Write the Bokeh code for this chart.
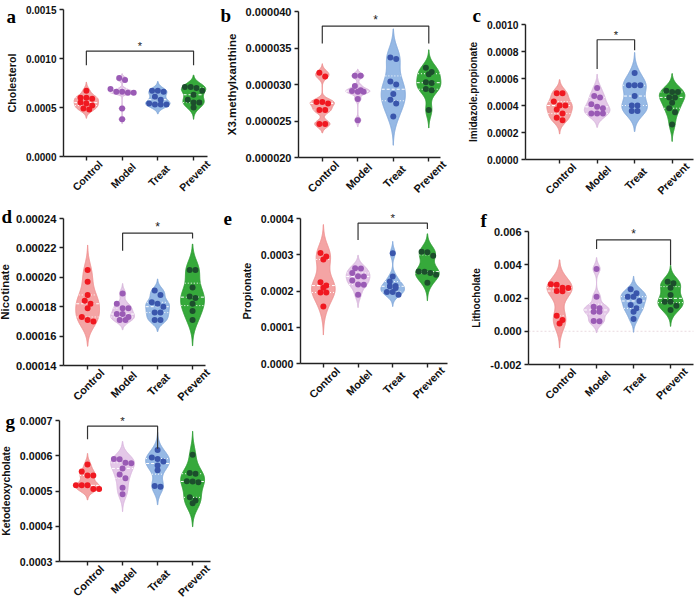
import numpy as np
from bokeh.plotting import figure
from bokeh.layouts import column, row
from bokeh.models import Range1d, FixedTicker, PrintfTickFormatter, Label
from bokeh.embed import file_html
from bokeh.resources import INLINE

groups = ["Control", "Model", "Treat", "Prevent"]

# ---- data ----
chol_control = [0.00067, 0.00060, 0.00060, 0.00059, 0.00055, 0.00054, 0.00052, 0.00049, 0.00048]
chol_model = [0.00080, 0.00078, 0.00069, 0.00066, 0.00066, 0.00065, 0.00065, 0.00049, 0.00038]
chol_treat = [0.00067, 0.00067, 0.00066, 0.00061, 0.00058, 0.00054, 0.00053, 0.00053, 0.00053]
chol_prevent = [0.00071, 0.00071, 0.00070, 0.00067, 0.00063, 0.00058, 0.00055, 0.00055, 0.00050]

x3m_control = [0.0000316, 0.0000311, 0.0000276, 0.0000276, 0.0000274, 0.0000265, 0.0000265, 0.0000246, 0.0000246]
x3m_model = [0.0000312, 0.0000312, 0.0000298, 0.0000292, 0.0000291, 0.0000290, 0.0000290, 0.0000280, 0.0000251]
x3m_treat = [0.0000337, 0.0000335, 0.0000304, 0.0000300, 0.0000287, 0.0000279, 0.0000274, 0.0000256]
x3m_prevent = [0.0000323, 0.0000317, 0.0000314, 0.0000303, 0.0000302, 0.0000294, 0.0000292, 0.0000265]

imid_control = [0.00049, 0.00049, 0.00043, 0.00040, 0.00040, 0.00037, 0.00034, 0.00031, 0.00029]
imid_model = [0.00053, 0.00047, 0.00046, 0.00041, 0.00039, 0.00038, 0.00034, 0.00034, 0.00034]
imid_treat = [0.00064, 0.00055, 0.00055, 0.00055, 0.00047, 0.00040, 0.00040, 0.00036, 0.00036]
imid_prevent = [0.00051, 0.00050, 0.00050, 0.00046, 0.00046, 0.00042, 0.00038, 0.00035, 0.00026]

nico_control = [0.000205, 0.000197, 0.000188, 0.000184, 0.000182, 0.000179, 0.000173, 0.000171, 0.000170]
nico_model = [0.000189, 0.000182, 0.000179, 0.000179, 0.000175, 0.000175, 0.000173, 0.000171, 0.000171]
nico_treat = [0.000191, 0.000188, 0.000183, 0.000182, 0.000180, 0.000176, 0.000176, 0.000171, 0.000171]
nico_prevent = [0.000205, 0.000205, 0.000193, 0.000187, 0.000186, 0.000182, 0.000177, 0.000171]

prop_control = [0.000305, 0.000295, 0.000287, 0.000224, 0.000215, 0.000209, 0.000196, 0.000196, 0.000157]
prop_model = [0.000263, 0.000262, 0.000250, 0.000241, 0.000240, 0.000229, 0.000218, 0.000217, 0.000190]
prop_treat = [0.000304, 0.000240, 0.000226, 0.000214, 0.000213, 0.000208, 0.000197, 0.000197, 0.000190]
prop_prevent = [0.000308, 0.000307, 0.000297, 0.000254, 0.000253, 0.000250, 0.000245, 0.000223]

litho_control = [0.00282, 0.00280, 0.00262, 0.00260, 0.00242, 0.00240, 0.00093, 0.00067, 0.00047]
litho_model = [0.00375, 0.00208, 0.00148, 0.00138, 0.00118, 0.00118, 0.00062, 0.00060]
litho_treat = [0.00252, 0.00228, 0.00208, 0.00208, 0.00182, 0.00158, 0.00138, 0.00118, 0.00073]
litho_prevent = [0.00298, 0.00288, 0.00262, 0.00218, 0.00178, 0.00178, 0.00154, 0.00128]

keto_control = [0.000575, 0.000555, 0.000544, 0.000544, 0.000516, 0.000516, 0.000516, 0.000506, 0.000506]
keto_model = [0.000591, 0.000590, 0.000580, 0.000579, 0.000564, 0.000547, 0.000536, 0.000509, 0.000491]
keto_treat = [0.000616, 0.000595, 0.000591, 0.000584, 0.000572, 0.000559, 0.000514, 0.000512]
keto_prevent = [0.000603, 0.000551, 0.000549, 0.000528, 0.000527, 0.000525, 0.000482, 0.000473, 0.000465]

# y ticks
chol_ticks = [0.0, 0.0005, 0.0010, 0.0015]
x3m_ticks = [0.000020, 0.000025, 0.000030, 0.000035, 0.000040]
imid_ticks = [0.0, 0.0002, 0.0004, 0.0006, 0.0008, 0.0010]
nico_ticks = [0.00014, 0.00016, 0.00018, 0.00020, 0.00022, 0.00024]
prop_ticks = [0.0, 0.0001, 0.0002, 0.0003, 0.0004]
litho_ticks = [-0.002, 0.0, 0.002, 0.004, 0.006]
keto_ticks = [0.0003, 0.0004, 0.0005, 0.0006, 0.0007]

# significance brackets: (left group, right group, top, left foot, right foot)
chol_sig = (0, 3, 0.001076, 0.00093, 0.00093)
x3m_sig = (0, 3, 0.0000380, 0.0000356, 0.0000356)
imid_sig = (1, 2, 0.000887, 0.00067, 0.00081)
nico_sig = (1, 3, 0.000230, 0.000218, 0.0002264)
prop_sig = (1, 3, 0.000387, 0.000341, 0.000371)
litho_sig = (1, 3, 0.0055, 0.00494, 0.00399)
keto_sig = (0, 2, 0.000684, 0.000647, 0.00062)

FILL = ["#F4A4A4", "#E4C8E8", "#96B9E5", "#36A93B"]
EDGE = ["#EF9090", "#D9B6DD", "#82A9DC", "#2C9C32"]
DOT = ["#F01820", "#9A5BB5", "#3A56AC", "#1C4E2C"]
FONT = "Liberation Sans"


def kde(vals, grid, bw):
    v = np.asarray(vals)[:, None]
    return np.exp(-0.5 * ((grid[None, :] - v) / bw) ** 2).sum(axis=0)


def panel(letter, ylabel, data, ticks, fmt, xr, fs, fs_t, fs_x, title_gap, fig, box, letter_pos, sig,
          zero=False):
    fx, fy, W, H = fig
    L, R, T, B = box
    l, r, t, b = L - fx, R - fx, T - fy, B - fy
    xs, xe = xr
    y0, y1 = ticks[0], ticks[-1]
    ppx = (r - l) / (xe - xs)
    ppy = (b - t) / (y1 - y0)
    x_start, x_end = xs - l / ppx, xe + (W - r) / ppx
    y_bot, y_top = y0 - (H - b) / ppy, y1 + t / ppy

    p = figure(width=W, height=H, x_range=Range1d(x_start, x_end), y_range=Range1d(y_bot, y_top),
               output_backend="svg", toolbar_location=None, min_border=0)
    p.outline_line_color = None
    p.grid.visible = False

    if zero:
        p.line([xs, xe], [0, 0], line_color="#E9D9DF", line_dash="2 2", line_width=1)

    for i, vals in enumerate(data):
        vals = np.asarray(vals, dtype=float)
        cx = i + 0.5
        q1, med, q3 = np.percentile(vals, [25, 50, 75])
        sd = vals.std(ddof=1)
        iqr = q3 - q1
        s = min(sd, iqr / 1.34) if iqr > 0 else sd
        bw = 0.9 * s * len(vals) ** -0.2
        grid = np.linspace(vals.min() - 2.6 * bw, vals.max() + 2.6 * bw, 240)
        dens = kde(vals, grid, bw)
        half = dens / dens.max() * 0.34
        xsv = np.concatenate([cx - half, (cx + half)[::-1]])
        ysv = np.concatenate([grid, grid[::-1]])
        p.patch(xsv, ysv, fill_color=FILL[i], line_color=EDGE[i], line_width=1)
        for q, dash in ((q1, "1 2"), (med, "3 2"), (q3, "1 2")):
            hw = float(np.interp(q, grid, half))
            p.segment(x0=[cx - hw], y0=[q], x1=[cx + hw], y1=[q],
                      line_color="white", line_dash=dash, line_width=1)
        # beeswarm rows
        d_px = 5.8
        order = np.argsort(-vals)
        offs = np.zeros(len(vals))
        rows_ = []
        for k in order:
            if rows_ and abs(vals[rows_[-1][0]] - vals[k]) * ppy < 4.5:
                rows_[-1].append(k)
            else:
                rows_.append([k])
        for rr in rows_:
            n = len(rr)
            for j, k in enumerate(rr):
                offs[k] = (j - (n - 1) / 2) * d_px / ppx
        p.scatter(cx + offs, vals, size=6, fill_color=DOT[i], line_color=None)

        # category label: rotated 45 degrees, centred under its tick
        p.add_layout(Label(x=cx, y=y0, text=groups[i], angle=np.pi / 4, text_align="center",
                           text_baseline="middle", x_offset=1, y_offset=-19,
                           text_font=FONT, text_font_style="bold", text_font_size=f"{fs_x}px",
                           text_color="#111111"))

    gl, gr, top, fl, fr = sig
    xl, xrr = gl + 0.5, gr + 0.5
    p.line([xl, xl, xrr, xrr], [fl, top, top, fr], line_color="#333333", line_width=1.2)
    p.add_layout(Label(x=(xl + xrr) / 2, y=top, text="*", text_align="center",
                       text_baseline="bottom", y_offset=-1, text_font=FONT,
                       text_font_size=f"{fs + 1}px", text_color="#222222"))

    lpx, lpy = letter_pos
    p.add_layout(Label(x=x_start + (lpx - fx) / ppx, y=y_top - (lpy - fy) / ppy, text=letter,
                       text_align="left", text_baseline="alphabetic",
                       text_font="Liberation Serif", text_font_style="bold",
                       text_font_size="19px", text_color="#000000"))

    xa, ya = p.xaxis[0], p.yaxis[0]
    xa.fixed_location = y0
    xa.bounds = (xs, xe)
    ya.fixed_location = xs
    ya.bounds = (y0, y1)
    xa.ticker = FixedTicker(ticks=[i + 0.5 for i in range(len(groups))])
    xa.major_label_text_color = None
    ya.ticker = FixedTicker(ticks=ticks)
    ya.formatter = PrintfTickFormatter(format=fmt)
    ya.axis_label = ylabel
    for ax in (xa, ya):
        ax.axis_line_color = "#222222"
        ax.axis_line_width = 1.4
        ax.major_tick_line_color = "#222222"
        ax.major_tick_line_width = 1.4
        ax.major_tick_out = 4
        ax.major_tick_in = 0
        ax.minor_tick_line_color = None
    ya.major_label_text_font = FONT
    ya.major_label_text_font_style = "bold"
    ya.major_label_text_font_size = f"{fs}px"
    ya.major_label_text_color = "#111111"
    ya.major_label_standoff = 3
    ya.axis_label_text_font = FONT
    ya.axis_label_text_font_style = "bold"
    ya.axis_label_text_font_size = f"{fs_t}px"
    ya.axis_label_text_color = "#111111"
    ya.axis_label_standoff = title_gap
    return p


# figure slots (page x, page y, width, height); Bokeh's page has no body margin
A = (0, 0, 218, 198)
Bf = (218, 0, 242, 198)
C = (460, 0, 234, 198)
D = (0, 198, 218, 210)
E = (218, 198, 242, 210)
F = (460, 198, 234, 210)
G = (0, 408, 218, 194)

pa = panel("a", "Cholesterol", [chol_control, chol_model, chol_treat, chol_prevent], chol_ticks, "%.4f",
           (-0.14, 3.89), 10, 10.7, 10.5, 5, A, (63, 207, 9, 156), (6, 16), chol_sig)
pb = panel("b", "X3.methylxanthine", [x3m_control, x3m_model, x3m_treat, x3m_prevent], x3m_ticks, "%.6f",
           (-0.17, 3.83), 11, 11.5, 11, 5, Bf, (298, 440, 11, 157), (220, 15), x3m_sig)
pc = panel("c", "Imidazole.propionate", [imid_control, imid_model, imid_treat, imid_prevent], imid_ticks, "%.4f",
           (-0.41, 4.07), 10.3, 10, 10.8, 5, C, (525, 693, 24, 159), (472, 15), imid_sig)
pd_ = panel("d", "Nicotinate", [nico_control, nico_model, nico_treat, nico_prevent], nico_ticks, "%.5f",
            (-0.19, 3.87), 11.2, 11.5, 11, 2, D, (63, 205, 218, 365), (1, 216), nico_sig)
pe = panel("e", "Propionate", [prop_control, prop_model, prop_treat, prop_prevent], prop_ticks, "%.4f",
           (-0.16, 4.08), 10.7, 10.9, 10.8, 5, E, (300, 447, 218, 363), (223, 218), prop_sig)
pf = panel("f", "Lithocholate", [litho_control, litho_model, litho_treat, litho_prevent], litho_ticks, "%.3f",
           (-0.34, 4.12), 11, 10, 10.8, 5, F, (528, 693, 231, 364), (480, 220), litho_sig, zero=True)
pg = panel("g", "Ketodeoxycholate", [keto_control, keto_model, keto_treat, keto_prevent], keto_ticks, "%.4f",
           (-0.30, 4.01), 10.7, 10.4, 10.8, 5, G, (59, 210, 420, 561), (5, 421), keto_sig)

layout = column(row(pa, pb, pc), row(pd_, pe, pf), row(pg))
open("out.html", "w").write(file_html(layout, INLINE))
